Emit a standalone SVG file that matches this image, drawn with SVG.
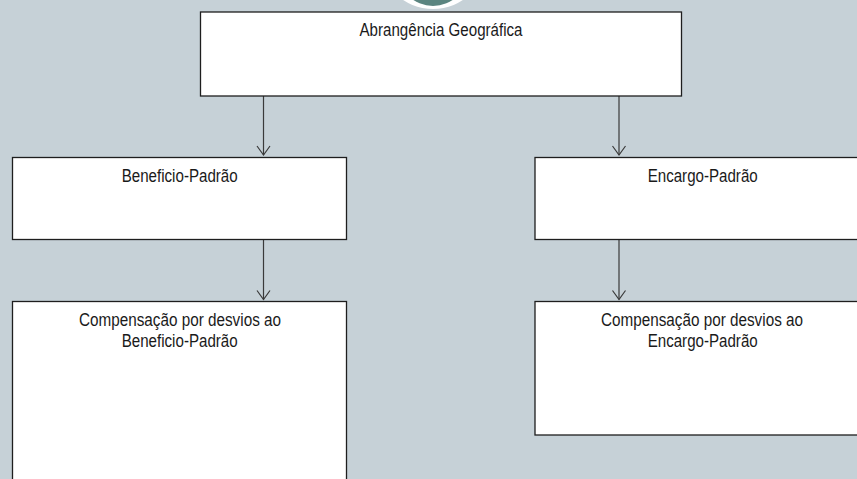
<svg xmlns="http://www.w3.org/2000/svg" width="857" height="479" viewBox="0 0 857 479">
<defs>
<style>
.box{fill:#ffffff;stroke:#1e1e1e;stroke-width:1.3}
.lbl{font-family:"Liberation Sans Narrow","Liberation Sans",Arial,sans-serif;font-size:17.5px;fill:#1a1a1a;text-anchor:middle}
.conn{stroke:#3a3a3a;stroke-width:1.2;fill:none}
</style>
</defs>
<rect x="0" y="0" width="857" height="479" fill="#c6d1d7"/>
<g id="logo">
<circle cx="433" cy="-45" r="54" fill="#ffffff"/>
<circle cx="433" cy="-29" r="35" fill="#5b8580"/>
</g>
<g id="connectors">
<line class="conn" x1="263.5" y1="96" x2="263.5" y2="155"/>
<path d="M257,146 L263.5,155 L270,146" class="conn"/>
<line class="conn" x1="619" y1="96" x2="619" y2="155" stroke="#5a5a5a"/>
<path d="M612.5,146 L619,155 L625.5,146" class="conn"/>
<line class="conn" x1="263.5" y1="240" x2="263.5" y2="299.5"/>
<path d="M257,290.5 L263.5,299.5 L270,290.5" class="conn"/>
<line class="conn" x1="619" y1="240" x2="619" y2="299.5" stroke="#5a5a5a"/>
<path d="M612.5,290.5 L619,299.5 L625.5,290.5" class="conn"/>
</g>
<g id="abrangencia">
<rect class="box" x="200.5" y="12" width="481" height="84"/>
<text class="lbl" x="441" y="36" textLength="163" lengthAdjust="spacingAndGlyphs">Abrangência Geográfica</text>
</g>
<g id="beneficio">
<rect class="box" x="12.5" y="157.5" width="334" height="82"/>
<text class="lbl" x="179.7" y="181.5" textLength="116" lengthAdjust="spacingAndGlyphs">Beneficio-Padrão</text>
</g>
<g id="encargo">
<rect class="box" x="535" y="157.5" width="335" height="82"/>
<text class="lbl" x="702.7" y="181.5" textLength="110" lengthAdjust="spacingAndGlyphs">Encargo-Padrão</text>
</g>
<g id="comp-beneficio">
<rect class="box" x="12.5" y="301.5" width="334" height="190"/>
<text class="lbl" x="180" y="326" textLength="202" lengthAdjust="spacingAndGlyphs">Compensação por desvios ao</text>
<text class="lbl" x="179.7" y="347" textLength="116" lengthAdjust="spacingAndGlyphs">Beneficio-Padrão</text>
</g>
<g id="comp-encargo">
<rect class="box" x="535" y="301.5" width="335" height="133.5"/>
<text class="lbl" x="702" y="326" textLength="202" lengthAdjust="spacingAndGlyphs">Compensação por desvios ao</text>
<text class="lbl" x="702.7" y="347" textLength="110" lengthAdjust="spacingAndGlyphs">Encargo-Padrão</text>
</g>
</svg>
